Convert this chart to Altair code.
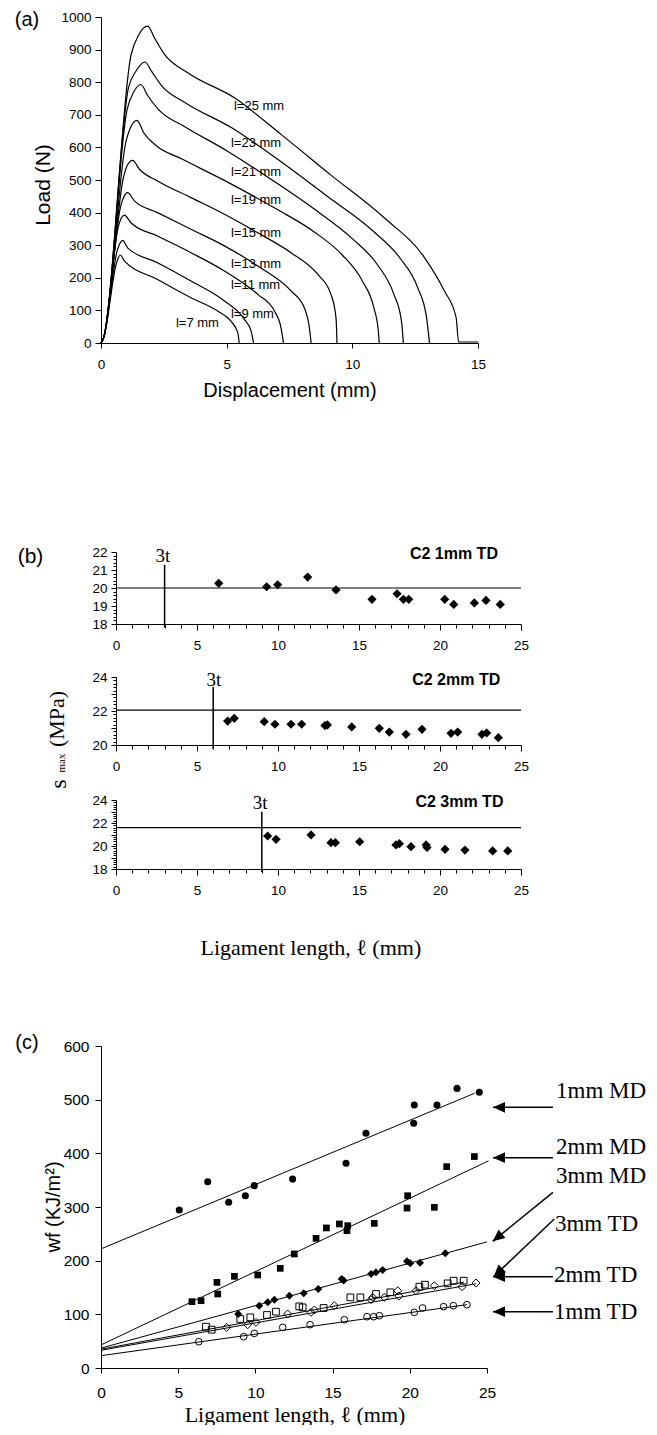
import altair as alt
import pandas as pd

SANS = "Liberation Sans"
SERIF = "Liberation Serif"

# ---------------- (a) load-displacement curves ----------------
a_names = ["7", "9", "11", "13", "15", "19", "21", "23", "25"]
l7_x = [0, 0.1, 0.6, 0.68, 0.77, 0.93, 2.25, 3.58, 4.64, 5.17, 5.44, 5.5]
l7_y = [0, 15, 240, 260, 270, 252, 195, 139, 98, 67, 32, 0]
l9_x = [0, 0.1, 0.65, 0.75, 0.86, 1.06, 2.25, 3.58, 4.91, 5.70, 5.97, 6.07]
l9_y = [0, 15, 285, 305, 315, 292, 246, 190, 129, 73, 37, 0]
l11_x = [0, 0.1, 0.7, 0.8, 0.93, 1.19, 2.25, 3.58, 4.91, 6.24, 6.90, 7.16, 7.26]
l11_y = [0, 15, 360, 382, 392, 369, 328, 277, 221, 149, 98, 47, 0]
l13_x = [0, 0.1, 0.8, 0.92, 1.06, 1.33, 2.25, 3.58, 4.91, 6.24, 7.56, 8.09, 8.29, 8.36]
l13_y = [0, 15, 425, 450, 461, 436, 400, 349, 298, 236, 160, 108, 47, 0]
l15_x = [0, 0.1, 0.9, 1.05, 1.26, 1.53, 2.25, 3.58, 4.91, 6.24, 7.56, 8.62, 9.15, 9.35, 9.39]
l15_y = [0, 15, 510, 545, 560, 533, 497, 446, 395, 338, 277, 211, 149, 78, 0]
l19_x = [0, 0.1, 1.0, 1.2, 1.43, 1.7, 2.2, 3.2, 5.0, 7.0, 8.5, 9.6, 10.4, 10.85, 11.03, 11.07]
l19_y = [0, 15, 620, 665, 683, 645, 605, 565, 495, 410, 340, 270, 190, 110, 40, 0]
l21_x = [0, 0.1, 1.05, 1.3, 1.59, 1.85, 2.3, 3.3, 5.0, 7.0, 8.5, 10.0, 11.0, 11.65, 11.95, 12.03]
l21_y = [0, 15, 720, 770, 793, 760, 715, 665, 590, 490, 410, 320, 240, 150, 70, 0]
l23_x = [0, 0.1, 1.1, 1.4, 1.75, 2.0, 2.4, 3.4, 5.2, 7.0, 9.0, 10.8, 11.9, 12.6, 12.95, 13.07]
l23_y = [0, 15, 785, 835, 862, 835, 790, 735, 660, 565, 450, 345, 260, 170, 80, 0]
l25_x = [0, 0.1, 1.2, 1.5, 1.86, 2.12, 2.52, 3.45, 5.31, 7.16, 9.15, 11.27, 12.87, 13.66, 14.13, 14.23, 15.0]
l25_y = [0, 15, 885, 945, 972, 937, 886, 829, 752, 640, 515, 384, 262, 160, 78, 3, 3]

a_labels = ["l=7 mm", "l=9 mm", "l=11 mm", "l=13 mm", "l=15 mm", "l=19 mm", "l=21 mm", "l=23 mm", "l=25 mm"]
a_label_x = [2.98, 5.17, 5.17, 5.17, 5.17, 5.17, 5.17, 5.17, 5.29]
a_label_y = [62, 88, 178, 243, 338, 439, 525, 614, 727]

# ---------------- (b) s_max vs ligament length ----------------
b1_x = [6.34, 9.30, 9.98, 11.83, 13.58, 15.80, 17.35, 17.74, 18.07, 20.29, 20.85, 22.12, 22.84, 23.72]
b1_y = [20.26, 20.07, 20.18, 20.61, 19.89, 19.37, 19.68, 19.37, 19.37, 19.37, 19.09, 19.17, 19.31, 19.09]
b2_x = [6.89, 7.30, 9.15, 9.81, 10.80, 11.46, 12.90, 13.05, 14.55, 16.25, 16.87, 17.90, 18.89, 20.68, 21.09, 22.59, 22.88, 23.60]
b2_y = [21.41, 21.57, 21.37, 21.22, 21.22, 21.22, 21.14, 21.18, 21.06, 20.98, 20.76, 20.63, 20.92, 20.69, 20.76, 20.63, 20.71, 20.43]
b3_x = [9.36, 9.88, 12.04, 13.27, 13.54, 15.04, 17.28, 17.49, 18.21, 19.14, 19.20, 20.31, 21.54, 23.25, 24.18]
b3_y = [20.87, 20.58, 20.96, 20.29, 20.29, 20.37, 20.09, 20.20, 19.94, 20.09, 19.88, 19.71, 19.65, 19.57, 19.57]
b_means = [20.0, 22.05, 21.6]
b_3t = [3, 6, 9]
b_3t_y0 = [17.8, 19.76, 17.75]
b_3t_y1 = [21.28, 23.41, 22.98]
b_titles = ["C2 1mm TD", "C2 2mm TD", "C2 3mm TD"]
b_title_x = [20.86, 21.0, 21.2]
b_title_y = [21.63, 23.53, 23.42]
b_3t_label_x = [2.9, 6.05, 8.9]
b_3t_label_y = [21.44, 23.47, 23.2]

# ---------------- (c) w_f vs ligament length ----------------
md1_x = [5.07, 6.91, 8.27, 9.35, 9.93, 12.41, 15.87, 17.16, 20.25, 20.29, 21.76, 23.06, 24.5]
md1_y = [294.5, 347, 308.7, 321, 339.8, 352, 381.4, 437.3, 456, 490, 490, 521, 513.7]
md2_x = [5.89, 6.48, 7.51, 7.56, 8.64, 10.15, 11.61, 12.52, 13.93, 14.6, 15.44, 15.98, 15.93, 17.7, 19.86, 19.82, 21.59, 22.39, 24.18]
md2_y = [123.6, 125.4, 159.6, 137.9, 170.8, 173.3, 185.7, 212.5, 241.6, 261, 268.4, 265.2, 256, 269.5, 321, 298, 299.4, 375.2, 394]
md3_x = [8.89, 10.25, 10.8, 11.23, 12.2, 13.13, 14.07, 15.59, 15.72, 17.49, 17.81, 18.24, 19.82, 20.03, 20.66, 22.3]
md3_y = [100.6, 116.1, 122.3, 127.3, 134.8, 139.1, 147.2, 165.9, 163, 175.2, 178.2, 182.6, 198.7, 195, 196, 213.6]
td2_x = [6.8, 7.17, 9.02, 9.67, 10.75, 11.33, 12.84, 13.06, 14.42, 16.15, 16.8, 17.81, 18.74, 20.62, 20.98, 22.45, 22.84, 23.49]
td2_y = [77, 71.4, 91.3, 94.4, 98.8, 104.9, 114.8, 113, 111.8, 131.6, 131.6, 137.9, 141, 151.5, 155.3, 157.7, 162.7, 162.7]
td3_x = [8.14, 9.5, 10.04, 12.09, 13.6, 13.82, 15.11, 17.49, 17.6, 18.35, 19.22, 19.3, 20.4, 21.59, 23.38, 24.29]
td3_y = [75.7, 80.7, 85, 100.6, 103.7, 108, 116.1, 127.3, 131.6, 131.6, 144, 134, 144, 153.4, 151.5, 158.4]
td1_x = [6.33, 9.24, 9.93, 11.77, 13.54, 15.76, 17.23, 17.66, 18.03, 20.29, 20.83, 22.19, 22.82, 23.7]
td1_y = [49, 58.3, 64.5, 75.7, 80.7, 90, 95.6, 95.6, 97.5, 103.7, 111.8, 114.3, 116.1, 118]

fit_names = ["1mm MD", "2mm MD", "3mm MD", "2mm TD", "3mm TD", "1mm TD"]
fit_x0 = [0, 0, 0, 0, 0, 0]
fit_y0 = [222, 43, 37, 35, 33, 23]
fit_x1 = [24.2, 25.1, 25.0, 23.5, 24.3, 23.7]
fit_y1 = [512, 386, 235, 160, 157, 118]

arrow_labels = ["1mm MD", "2mm MD", "3mm MD", "3mm TD", "2mm TD", "1mm TD"]
arrow_x0 = [29.27, 29.27, 29.27, 29.36, 29.27, 29.27]
arrow_y0 = [485.7, 392.0, 327.3, 277.7, 170.2, 105.0]
arrow_x1 = [25.39, 25.39, 25.37, 25.43, 25.39, 25.39]
arrow_y1 = [485.7, 392.0, 236.0, 170.2, 170.2, 105.0]
arrow_angle = [0, 0, 320.9, 316.4, 0, 0]
arrow_label_x = [29.47, 29.47, 29.47, 29.4, 29.34, 29.34]
arrow_label_y = [503.8, 398.9, 344.0, 256.0, 159.6, 91.3]

# ======================= build panel (a) =======================
curves = [(l7_x, l7_y), (l9_x, l9_y), (l11_x, l11_y), (l13_x, l13_y), (l15_x, l15_y),
          (l19_x, l19_y), (l21_x, l21_y), (l23_x, l23_y), (l25_x, l25_y)]
rows = []
for name, (xs, ys) in zip(a_names, curves):
    for i, (xv, yv) in enumerate(zip(xs, ys)):
        rows.append({"x": xv, "y": yv, "curve": name, "i": i})
dfA = pd.DataFrame(rows)
dfAl = pd.DataFrame({"x": a_label_x, "y": a_label_y, "label": a_labels})

xA = alt.Scale(domain=[0, 15], range=[0, 377], nice=False, zero=False)
yA = alt.Scale(domain=[0, 1000], range=[334, 8], nice=False, zero=False)
axA_x = alt.Axis(values=[0, 5, 10, 15], title="Displacement (mm)", titleFont=SANS, titleFontSize=20,
                 titleFontWeight="normal", titleX=188.5, titleY=53, titleBaseline="alphabetic",
                 titleAlign="center", labelFont=SANS, labelFontSize=13.5, labelPadding=9, tickSize=5,
                 labelFlush=False, grid=False, format="d")
axA_y = alt.Axis(values=list(range(0, 1001, 100)), title="Load (N)", titleFont=SANS, titleFontSize=21,
                 titleFontWeight="normal", titleX=-58, titleY=175.5, titleAngle=270,
                 titleBaseline="middle", titleAlign="center", labelFont=SANS, labelFontSize=13.5,
                 labelPadding=4, tickSize=6, grid=False, format="d")

linesA = alt.Chart(dfA).mark_line(color="black", strokeWidth=1.2, interpolate="monotone").encode(
    x=alt.X("x:Q", scale=xA, axis=axA_x), y=alt.Y("y:Q", scale=yA, axis=axA_y),
    detail="curve:N", order="i:Q")
labelsA = alt.Chart(dfAl).mark_text(align="left", baseline="middle", font=SANS, fontSize=13,
                                    color="black").encode(
    x=alt.X("x:Q", scale=xA, axis=axA_x), y=alt.Y("y:Q", scale=yA, axis=axA_y), text="label:N")
tagA = alt.Chart(pd.DataFrame({"t": ["(a)"]})).mark_text(font=SANS, fontSize=20, align="center",
                                                         baseline="middle", color="black").encode(
    x=alt.value(-74), y=alt.value(10.5), text="t:N")
anchor = alt.Chart(pd.DataFrame({"t": [0]})).mark_rule(color="white").encode(
    x=alt.value(-92), y=alt.value(0), y2=alt.value(2))
A = alt.layer(linesA, labelsA, tagA, anchor).properties(width=377, height=334)

# ======================= build panels (b) =======================
xB = alt.Scale(domain=[0, 25], range=[15, 420], nice=False, zero=False)


def b_x_axis(title=None):
    kw = dict(values=list(range(26)), labelExpr="datum.value % 5 === 0 ? datum.label : ''",
              tickSize={"condition": {"test": "datum.value % 5 === 0", "value": 6}, "value": 4},
              labelFont=SANS, labelFontSize=13.5, labelPadding=8, labelFlush=False,
              labelOverlap=False, grid=False, format="d")
    if title is None:
        kw["title"] = None
    else:
        kw.update(title=title, titleFont=SERIF, titleFontSize=22, titleFontWeight="normal",
                  titleX=209.4, titleY=85, titleBaseline="alphabetic", titleAlign="center")
    return alt.Axis(**kw)


def b_panel(k, xs, ys, ydom, yrange, height, label_step, x_title=None, extra=()):
    yv = [round(ydom[0] + 0.2 * i, 1) for i in range(int(round((ydom[1] - ydom[0]) / 0.2)) + 1)]
    yS = alt.Scale(domain=ydom, range=yrange, nice=False, zero=False)
    ay = alt.Axis(values=yv,
                  labelExpr=f"datum.value % {label_step} === 0 ? format(datum.value, 'd') : ''",
                  tickSize={"condition": {"test": "datum.value % 1 === 0", "value": 5}, "value": 3},
                  offset=-15, title=None, labelFont=SANS, labelFontSize=13.5, labelPadding=4,
                  labelOverlap=False, grid=False)
    ax = b_x_axis(x_title)
    X = lambda f: alt.X(f, scale=xB, axis=ax)
    Y = lambda f: alt.Y(f, scale=yS, axis=ay)
    pts = alt.Chart(pd.DataFrame({"x": xs, "y": ys})).mark_point(
        shape="diamond", filled=True, size=85, color="black", opacity=1).encode(x=X("x:Q"), y=Y("y:Q"))
    mean = alt.Chart(pd.DataFrame({"x1": [0], "x2": [25], "y": [b_means[k]]})).mark_rule(
        color="black", strokeWidth=1.2).encode(x=X("x1:Q"), x2="x2:Q", y=Y("y:Q"))
    vline = alt.Chart(pd.DataFrame({"x": [b_3t[k]], "y1": [b_3t_y0[k]], "y2": [b_3t_y1[k]]})).mark_rule(
        color="black", strokeWidth=1.5).encode(x=X("x:Q"), y=Y("y1:Q"), y2="y2:Q")
    ttl = alt.Chart(pd.DataFrame({"x": [b_title_x[k]], "y": [b_title_y[k]], "t": [b_titles[k]]})).mark_text(
        font=SANS, fontSize=16, fontWeight="bold", align="center", baseline="alphabetic",
        color="black").encode(x=X("x:Q"), y=Y("y:Q"), text="t:N")
    t3 = alt.Chart(pd.DataFrame({"x": [b_3t_label_x[k]], "y": [b_3t_label_y[k]], "t": ["3t"]})).mark_text(
        font=SERIF, fontSize=19, align="center", baseline="alphabetic", color="black").encode(
        x=X("x:Q"), y=Y("y:Q"), text="t:N")
    return alt.layer(mean, vline, pts, ttl, t3, *extra).properties(width=420, height=height)


tagB = alt.Chart(pd.DataFrame({"t": ["(b)"]})).mark_text(font=SANS, fontSize=21, align="center",
                                                         baseline="middle", color="black").encode(
    x=alt.value(-70.5), y=alt.value(213.5), text="t:N")
B1 = b_panel(0, b1_x, b1_y, [18, 22], [281, 209], 281, 1, extra=(tagB,))

ytitle_parts = pd.DataFrame({"t": ["(MPa)", "max", "s"], "px": [-44, -39, -42], "py": [95, 139, 160],
                             "fs": [22, 11, 24]})
yt_layers = []
for _, r in ytitle_parts.iterrows():
    yt_layers.append(alt.Chart(pd.DataFrame({"t": [r["t"]]})).mark_text(
        font=SERIF, fontSize=float(r["fs"]), angle=270, align="center", baseline="middle",
        color="black").encode(x=alt.value(float(r["px"])), y=alt.value(float(r["py"])), text="t:N"))
B2 = b_panel(1, b2_x, b2_y, [20, 24], [121, 53], 121, 2, extra=tuple(yt_layers))
B3 = b_panel(2, b3_x, b3_y, [18, 24], [124, 55], 124, 2, x_title="Ligament length, \u2113 (mm)")

# ======================= build panel (c) =======================
xC = alt.Scale(domain=[0, 25], range=[0, 386], nice=False, zero=False)
yC = alt.Scale(domain=[0, 600], range=[499, 177], nice=False, zero=False)
axC_x = alt.Axis(values=[0, 5, 10, 15, 20, 25], title="Ligament length, \u2113 (mm)", titleFont=SERIF,
                 titleFontSize=22, titleFontWeight="normal", titleX=193.5, titleY=53,
                 titleBaseline="alphabetic", titleAlign="center", labelFont=SANS, labelFontSize=15.5,
                 labelPadding=12, tickSize=5, labelFlush=False, grid=False, format="d")
axC_y = alt.Axis(values=list(range(0, 601, 100)), title=None, labelFont=SANS, labelFontSize=15.5,
                 labelPadding=6, tickSize=6, grid=False, format="d")
XC = lambda f: alt.X(f, scale=xC, axis=axC_x)
YC = lambda f: alt.Y(f, scale=yC, axis=axC_y)

series = [
    (md1_x, md1_y, "circle", True, 50),
    (md2_x, md2_y, "square", True, 45),
    (md3_x, md3_y, "diamond", True, 64),
    (td2_x, td2_y, "square", False, 45),
    (td3_x, td3_y, "diamond", False, 64),
    (td1_x, td1_y, "circle", False, 45),
]
c_layers = []
dfFit = pd.DataFrame({"name": fit_names, "x0": fit_x0, "y0": fit_y0, "x1": fit_x1, "y1": fit_y1})
c_layers.append(alt.Chart(dfFit).mark_rule(color="black", strokeWidth=1).encode(
    x=XC("x0:Q"), x2="x1:Q", y=YC("y0:Q"), y2="y1:Q"))
for xs, ys, shp, filled, sz in series:
    if filled:
        mk = alt.Chart(pd.DataFrame({"x": xs, "y": ys})).mark_point(
            shape=shp, filled=True, size=sz, color="black", opacity=1)
    else:
        mk = alt.Chart(pd.DataFrame({"x": xs, "y": ys})).mark_point(
            shape=shp, filled=False, size=sz, color="black", strokeWidth=1, opacity=1)
    c_layers.append(mk.encode(x=XC("x:Q"), y=YC("y:Q")))

dfArr = pd.DataFrame({"lab": arrow_labels, "x0": arrow_x0, "y0": arrow_y0, "x1": arrow_x1,
                      "y1": arrow_y1, "ang": arrow_angle, "lx": arrow_label_x, "ly": arrow_label_y})
c_layers.append(alt.Chart(dfArr).mark_rule(color="black", strokeWidth=1.5).encode(
    x=XC("x0:Q"), x2="x1:Q", y=YC("y0:Q"), y2="y1:Q"))
c_layers.append(alt.Chart(dfArr).mark_point(
    shape="M0,0L2,-0.9L2,0.9Z", filled=True, size=144, color="black", opacity=1).encode(
    x=XC("x1:Q"), y=YC("y1:Q"), angle=alt.Angle("ang:Q", scale=None)))
c_layers.append(alt.Chart(dfArr).mark_text(font=SERIF, fontSize=23, align="left", baseline="alphabetic",
                                           color="black").encode(
    x=XC("lx:Q"), y=YC("ly:Q"), text="lab:N"))
c_layers.append(alt.Chart(pd.DataFrame({"t": ["(c)"]})).mark_text(
    font=SANS, fontSize=20, align="center", baseline="middle", color="black").encode(
    x=alt.value(-74), y=alt.value(173.5), text="t:N"))
c_layers.append(alt.Chart(pd.DataFrame({"t": ["wf (KJ/m\u00b2)"]})).mark_text(
    font=SANS, fontSize=20, angle=270, align="center", baseline="middle", color="black").encode(
    x=alt.value(-47), y=alt.value(338), text="t:N"))
C = alt.layer(*c_layers).properties(width=386, height=499)

chart = alt.vconcat(A, B1, B2, B3, C, spacing=0, bounds="flush").properties(padding=0).configure_view(
    stroke=None).configure_axis(domainColor="black", tickColor="black", labelColor="black",
                                titleColor="black", domainWidth=1, tickWidth=1)

chart.save("out.html", embed_options={"renderer": "svg", "actions": False})
